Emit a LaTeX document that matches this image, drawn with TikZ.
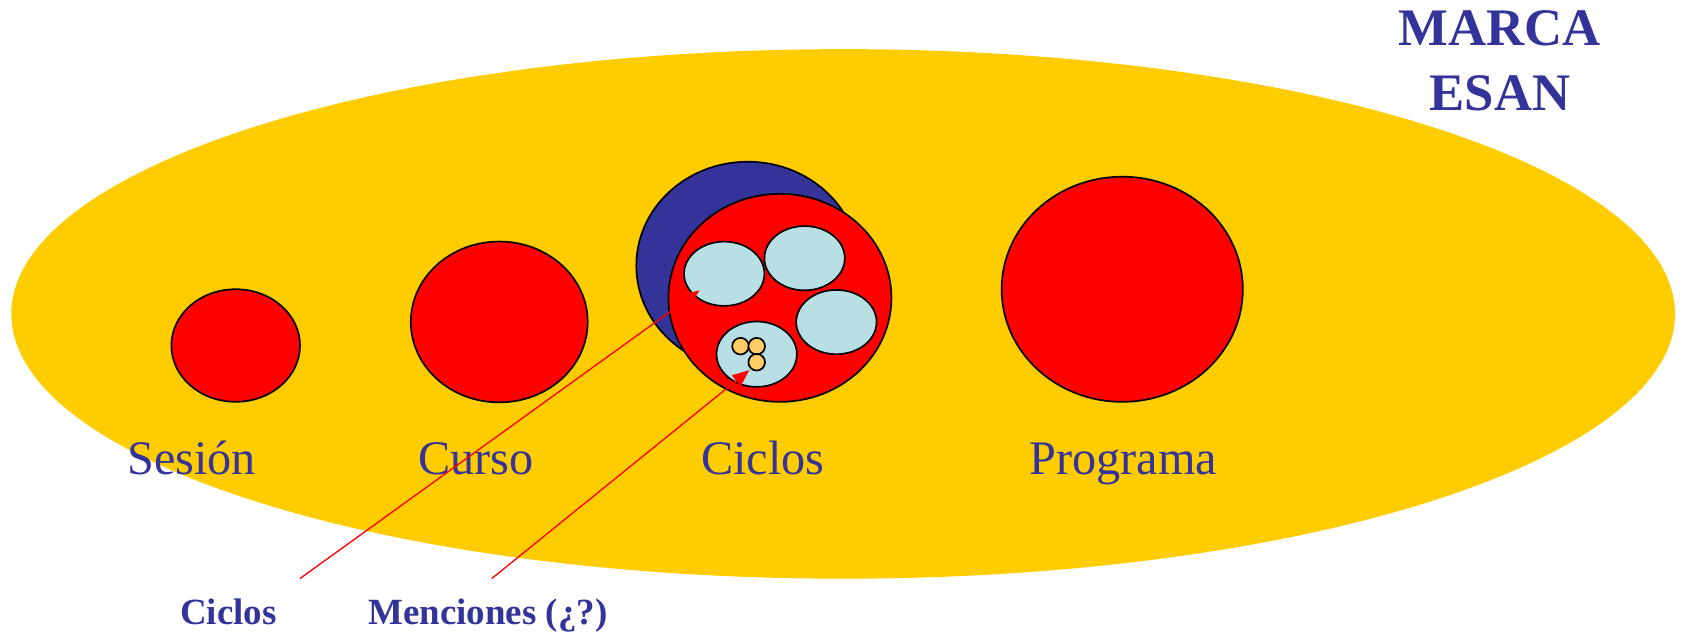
\documentclass[tikz,border=0pt]{standalone}
\usepackage{fontspec}
\setmainfont{Liberation Serif}
\usetikzlibrary{shapes.geometric,arrows.meta}
\definecolor{oro}{HTML}{FFCC00}
\definecolor{rojo}{HTML}{FF0000}
\definecolor{azul}{HTML}{333399}
\definecolor{celeste}{HTML}{B8DFE3}
\definecolor{durazno}{HTML}{FFCC66}
\tikzset{
  globo/.style={ellipse,draw=black,line width=0.45pt,inner sep=0pt},
  mencion/.style={globo,fill=celeste,minimum width=0.75cm,minimum height=0.60cm},
  bolita/.style={circle,draw=black,line width=0.45pt,fill=durazno,inner sep=0pt,minimum size=0.155cm},
  etiqueta/.style={anchor=base,text=azul,font=\fontsize{12.8}{15}\selectfont},
  nota/.style={anchor=base,text=azul,font=\fontsize{9.8}{12}\selectfont\bfseries},
  flecha/.style={draw=rojo,line width=0.35pt,-{Triangle[length=4.5pt,width=3.6pt]}}
}

\begin{document}
\begin{tikzpicture}[x=0.01cm,y=-0.01cm]
  \useasboundingbox (0,0) rectangle (1570,590);
  % marca
  \node (marca) [ellipse,fill=oro,inner sep=0pt,minimum width=15.52cm,minimum height=4.94cm] at (787,293) {};
  \node (mtxt) [anchor=base,text=azul,align=center,font=\fontsize{14}{17}\selectfont\bfseries] at (1400,102.7) {MARCA\\ESAN};
  % niveles
  \node (sesion) [globo,fill=rojo,minimum width=1.20cm,minimum height=1.05cm] at (220,322.5) {};
  \node (curso) [globo,fill=rojo,minimum width=1.65cm,minimum height=1.50cm] at (466,300.5) {};
  \node (fondo) [globo,fill=azul,minimum width=2.08cm,minimum height=1.94cm] at (698,248) {};
  \node (ciclos) [globo,fill=rojo,minimum width=2.08cm,minimum height=1.94cm] at (728,278) {};
  \node (programa) [globo,fill=rojo,minimum width=2.25cm,minimum height=2.10cm] at (1047.5,270) {};
  % menciones
  \node (m1) [mencion] at (676,255.5) {};
  \node (m2) [mencion] at (751,241) {};
  \node (m3) [mencion] at (780.7,300.6) {};
  \node (m4) [mencion,minimum height=0.61cm] at (706.3,330.6) {};
  \node (b1) [bolita] at (691.2,323.1) {};
  \node (b2) [bolita] at (706.3,323.1) {};
  \node (b3) [bolita] at (706.3,338.1) {};
  % textos
  \node (tsesion) [etiqueta] at (179,442.5) {Sesión};
  \node (tcurso) [etiqueta] at (444,442.5) {Curso};
  \node (tciclos) [etiqueta] at (712,442.5) {Ciclos};
  \node (tprograma) [etiqueta] at (1048.5,442.5) {Programa};
  \node (nciclos) [nota] at (213.3,582.5) {Ciclos};
  \node (nmenciones) [nota] at (455.5,582.5) {Menciones (¿?)};
  % flechas
  \coordinate (c1) at (280,540);
  \coordinate (c2) at (459,540);
  \coordinate (t1) at (653,271);
  \coordinate (t2) at (699.5,345.4);
  \path[flecha] (c1) -- (t1);
  \path[flecha] (c2) -- (t2);
\end{tikzpicture}
\end{document}
